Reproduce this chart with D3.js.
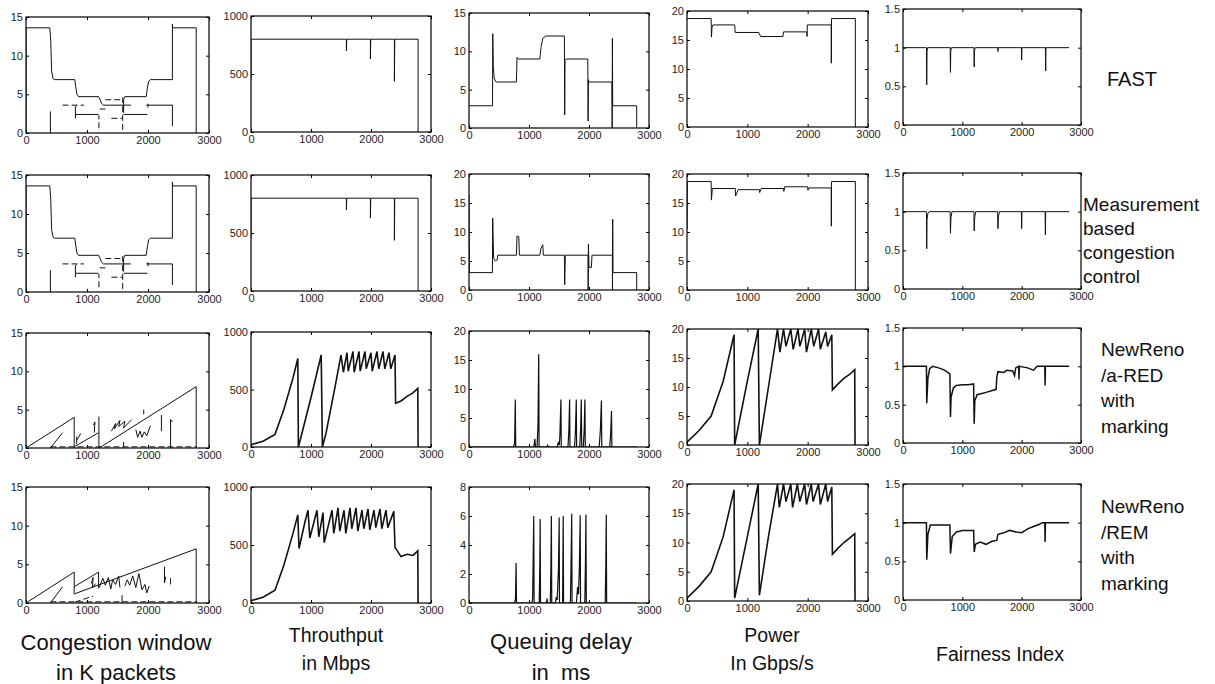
<!DOCTYPE html>
<html>
<head>
<meta charset="utf-8">
<title>Congestion control comparison</title>
<style>
  body { margin: 0; background: #fff; }
  svg { display: block; font-family: "Liberation Sans", Arial, Helvetica, sans-serif; }
  .tick text { font-family: "Liberation Sans", Arial, Helvetica, sans-serif; font-size: 11px; fill: #222; }
  .tick line { stroke: #000; }
  .domain { display: none; }
  .trace { fill: none; stroke: #111; }
  .box { fill: none; stroke: #000; stroke-width: 1.2; }
  .label { fill: #111; white-space: pre; }
</style>
</head>
<body>
<svg width="1215" height="684"></svg>
<script src="https://d3js.org/d3.v7.min.js"></script>
<script>
// ticks
var xTicks = [0, 1000, 2000, 3000];
var cwndTicks = [0, 5, 10, 15];
var thrTicks = [0, 500, 1000];
var queueTicks15 = [0, 5, 10, 15];
var queueTicks20 = [0, 5, 10, 15, 20];
var queueTicks8 = [0, 2, 4, 6, 8];
var powerTicks = [0, 5, 10, 15, 20];
var fairTicks = [0, 0.5, 1, 1.5];

// FAST
var cwndFastSolid = [
  [[0,0],[0,13.6],[390,13.6],[405,12],[420,8],[445,7.0],[470,6.9],[800,6.9],[815,6],[835,5],[860,4.7],[1190,4.7],[1215,4.3],[1240,3.8],[1270,3.6],[1720,3.6]],
  [[1600,2.6],[1600,4.3],[1620,4.7],[1970,4.7],[1990,5.8],[2010,6.7],[2040,6.9],[2400,6.9],[2400,14.1],[2405,13.6],[2790,13.6],[2790,0]],
  [[400,0],[400,2.8]],
  [[810,1.9],[810,3.4],[830,3.5]],
  [[815,2.4],[1190,2.4]],
  [[1600,2.4],[1990,2.4]],
  [[1970,3.6],[2400,3.6],[2400,0.9]],
  [[2000,3.8],[2000,3.3]]
];
var cwndFastDash = [
  [[600,3.6],[950,3.6]],
  [[1300,4.3],[1590,4.3]],
  [[1585,0.4],[1585,4.6]],
  [[1400,1.9],[1580,1.9]],
  [[1195,0.6],[1195,2.3]],
  [[1210,3.1],[1300,3.1]]
];
var thrFast = [[0,450],[0,800],[1590,800],[1590,700],[1596,800],[1990,800],[1990,630],[1996,800],[2390,800],[2390,437],[2396,800],[2785,800],[2785,0]];
var queueFast = [[0,2.9],[392,2.9],[396,12.3],[405,8],[420,6.5],[450,6.0],[790,6.0],[800,9.2],[820,9.0],[1180,9.0],[1200,10.5],[1230,11.7],[1280,12.0],[1590,12.0],[1595,1.7],[1600,8.8],[1620,9.0],[1980,9.0],[1985,0.9],[1990,6.3],[2000,6.0],[2382,6.0],[2386,0],[2390,11.7],[2395,2.9],[2795,2.9],[2795,0]];
var powerFast = [[0,18.7],[400,18.7],[405,15.5],[415,17.2],[430,17.6],[790,17.6],[800,16.3],[1190,16.3],[1220,15.6],[1590,15.6],[1600,16.4],[1985,16.4],[1990,15.6],[1995,17.6],[2390,17.6],[2392,11.0],[2396,18.7],[2790,18.7],[2790,0]];
var fairFast = [[0,1],[395,1],[400,0.52],[405,0.95],[415,1],[795,1],[800,0.68],[805,0.95],[815,1],[1195,1],[1200,0.75],[1205,0.95],[1215,1],[1598,1],[1600,0.95],[1605,1],[1995,1],[2000,0.84],[2005,1],[2400,1],[2405,0.7],[2410,1],[2800,1]];

// Measurement based
var queueMeas = [[0,16.4],[5,3.0],[390,3.0],[395,12.4],[410,5.5],[440,5.0],[470,5.2],[480,6.0],[790,6.0],[800,9.3],[830,9.2],[840,6.0],[1180,6.0],[1200,7.2],[1230,7.8],[1240,6.0],[1590,6.0],[1595,0.9],[1605,6.0],[1620,6.0],[1985,6.0],[1986,0],[1990,7.9],[2000,3.9],[2040,3.9],[2050,6.0],[2390,6.0],[2391,0],[2395,12.2],[2400,3.0],[2795,3.0],[2795,0]];
var powerMeas = [[0,10.5],[5,18.7],[400,18.7],[405,15.5],[420,17.5],[800,17.5],[805,16.2],[850,17.3],[1200,17.3],[1205,16.8],[1230,17.5],[1600,17.5],[1605,17.0],[1620,17.8],[2000,17.8],[2005,17.2],[2020,17.6],[2390,17.6],[2392,11.0],[2396,18.7],[2790,18.7],[2790,0]];
var fairMeas = [[0,1],[395,1],[400,0.52],[405,0.9],[420,0.98],[440,1],[795,1],[800,0.72],[808,0.92],[825,1],[1195,1],[1200,0.75],[1208,0.92],[1225,1],[1595,1],[1600,0.78],[1608,0.93],[1625,1],[1995,1],[2000,0.78],[2005,1],[2395,1],[2400,0.7],[2405,1],[2800,1]];

// NewReno / a-RED
var cwndRedSolid = [
  [[0,0],[790,4.0],[790,0]],
  [[800,0.2],[1190,2.0]],
  [[1195,4.1],[1195,0]],
  [[1200,0],[2790,8.0],[2790,0]],
  [[400,0],[600,2.0]],
  [[830,0.5],[830,1.5]],
  [[830,1.0],[900,1.9]],
  [[1120,2.0],[1130,3.4],[1105,3.0]],
  [[1400,2.2],[1470,3.2],[1450,2.5],[1540,3.6],[1520,2.8],[1620,3.5],[1600,2.6],[1730,3.7]],
  [[1800,2.4],[1830,1.4],[1870,2.2],[1900,1.4],[1940,2.1],[1980,1.6],[2040,2.9]],
  [[1600,0],[1600,0.8]],
  [[1930,5.0],[1930,4.4]],
  [[2220,4.3],[2220,2.2]],
  [[2370,0],[2370,3.7],[2400,3.4]]
];
var cwndRedDash = [[[400,0.15],[2800,0.15]]];
var thrRed = [[0,20],[200,50],[400,110],[550,330],[700,600],[780,770],[790,0],[830,80],[1000,430],[1170,800],[1190,0],[1250,120],[1400,520],[1500,800],[1540,650],[1600,820],[1620,660],[1700,830],[1720,650],[1800,830],[1820,660],[1900,830],[1920,680],[2000,820],[2020,660],[2100,830],[2130,680],[2200,830],[2230,680],[2300,820],[2330,680],[2400,800],[2410,380],[2500,400],[2600,440],[2700,470],[2780,510],[2785,0]];
var queueRed = [[0,0],[740,0],[760,0.6],[772,8.2],[778,0],[1080,0],[1098,1.4],[1108,0],[1135,0],[1150,4],[1162,16],[1168,0],[1300,0],[1310,0.3],[1320,0],[1470,0],[1490,0.9],[1505,0.3],[1515,2],[1532,8.2],[1538,0],[1650,0],[1665,3],[1677,8.2],[1683,0],[1760,0],[1775,3],[1788,8.2],[1794,0],[1845,0],[1860,3],[1872,8.2],[1878,0],[1905,0],[1920,3],[1932,8.2],[1938,0],[2170,0],[2190,3],[2207,8.0],[2213,0],[2345,0],[2362,2.5],[2375,6.2],[2381,0],[2800,0]];
var powerRed = [[0,0.5],[200,2.5],[400,5],[600,11],[780,19],[790,0],[1000,11],[1180,20],[1200,0],[1350,10],[1500,20],[1540,16],[1600,20],[1640,17],[1720,20],[1760,16.5],[1840,20],[1870,17],[1950,20],[1980,16],[2060,20],[2100,17],[2180,20],[2210,16.5],[2300,19.5],[2330,17],[2400,19],[2410,9.5],[2500,10.5],[2600,11.5],[2700,12.2],[2780,13],[2785,0]];
var fairRed = [[0,1],[395,1],[400,0.52],[420,0.85],[450,0.97],[500,1.0],[600,0.98],[700,0.95],[790,0.9],[800,0.34],[810,0.6],[850,0.72],[900,0.75],[1000,0.76],[1100,0.76],[1190,0.77],[1200,0.25],[1210,0.55],[1250,0.63],[1400,0.66],[1570,0.70],[1580,0.85],[1600,0.93],[1700,0.92],[1750,0.95],[1850,0.94],[1880,0.88],[1900,0.98],[1950,1.0],[1955,0.83],[1960,1.0],[2100,0.98],[2200,0.95],[2260,1.0],[2390,1.0],[2395,0.75],[2400,1.0],[2800,1.0]];

// NewReno / REM
var cwndRemSolid = [
  [[0,0],[790,4.0],[790,1.1]],
  [[790,2.1],[1190,4.0],[1190,1.9]],
  [[800,1.2],[2790,7.0],[2790,0]],
  [[400,0],[600,2.1]],
  [[1070,2.5],[1100,3.3],[1090,2.0],[1140,2.5]],
  [[1200,2.0],[1260,3.2],[1300,2.3],[1350,3.3],[1390,1.8],[1420,3.0],[1470,2.4],[1520,3.5],[1540,2.0]],
  [[1620,2.2],[1660,3.0],[1700,2.3],[1750,3.5],[1800,2.0],[1850,3.8],[1880,2.6],[1900,1.7],[1950,2.4],[1980,1.3],[2020,2.2]],
  [[2270,4.7],[2270,2.6],[2290,3.4]],
  [[2370,3.2],[2370,2.4]],
  [[1575,0],[1575,1.0]]
];
var cwndRemDash = [[[800,0.1],[1100,0.9]], [[400,0.15],[2800,0.15]]];
var thrRem = [[0,20],[200,50],[400,110],[550,330],[700,600],[780,760],[800,470],[900,700],[950,800],[980,560],[1100,800],[1130,570],[1200,780],[1220,520],[1350,800],[1380,600],[1450,820],[1480,620],[1550,800],[1580,600],[1650,820],[1680,640],[1750,820],[1780,620],[1850,800],[1880,640],[1950,810],[1980,630],[2050,800],[2080,650],[2150,810],[2180,640],[2250,800],[2280,650],[2380,790],[2400,480],[2500,400],[2600,420],[2700,410],[2780,450],[2785,0]];
var queueRem = [[0,0],[760,0],[775,0.3],[785,2.76],[792,0],[1050,0],[1060,0.3],[1068,2.5],[1079,6.0],[1085,0],[1170,0],[1180,2.5],[1186,5.8],[1192,0],[1290,0],[1300,0.3],[1310,0],[1355,0],[1365,2.5],[1373,6.0],[1379,0],[1440,0],[1455,0.4],[1470,0.2],[1492,2.5],[1503,5.9],[1508,0],[1560,0],[1570,6.0],[1576,0],[1690,0],[1700,2.5],[1712,6.15],[1718,0],[1790,0],[1810,1.1],[1825,0.6],[1840,2.5],[1853,6.05],[1859,0],[1930,0],[1940,2.5],[1949,6.1],[1955,0],[2270,0],[2280,2.5],[2288,6.1],[2294,0],[2790,0]];
var powerRem = [[0,0.5],[200,2.5],[400,5],[600,11],[780,19],[790,0.5],[1000,11],[1180,20],[1200,1],[1350,11],[1500,20],[1530,16],[1600,20],[1640,17],[1720,20],[1750,16],[1830,20],[1870,17],[1950,20],[1980,16.5],[2060,20],[2090,17],[2180,20],[2210,16.5],[2300,20],[2330,17],[2400,19.5],[2410,8],[2500,9],[2600,10],[2700,10.8],[2780,11.5],[2785,0]];
var fairRem = [[0,1],[395,1],[400,0.52],[420,0.85],[460,0.97],[600,0.97],[790,0.97],[800,0.6],[830,0.82],[900,0.88],[1000,0.9],[1190,0.9],[1200,0.62],[1220,0.72],[1300,0.75],[1400,0.72],[1500,0.76],[1580,0.77],[1600,0.85],[1700,0.87],[1800,0.9],[1900,0.88],[2000,0.87],[2100,0.92],[2200,0.95],[2300,0.98],[2350,1.0],[2390,1.0],[2395,0.75],[2400,1.0],[2800,1.0]];

var rowLabels = [["FAST"], ["Measurement", "based", "congestion", "control"], ["NewReno", "/a-RED", "with", "marking"], ["NewReno", "/REM", "with", "marking"]];
var colLabels = [["Congestion window", "in K packets"], ["Throuthput", "in Mbps"], ["Queuing delay", "in  ms"], ["Power", "In Gbps/s"], ["Fairness Index"]];

// panel frames (pixels)
var colX = [[26, 209], [251, 431], [469, 649], [687, 868], [903, 1081]];
var rowTop = [[17, 16, 13, 11, 9], [175, 175, 174, 174, 173], [333, 332, 331, 329, 328], [487, 487, 487, 484, 484]];
var rowBottom = [[133, 132, 128, 127, 125], [292, 291, 290, 290, 289], [448, 447, 447, 445, 443], [603, 603, 603, 601, 600]];

function solid(list, w) { return list.map(function (p) { return { pts: p, w: w || 1 }; }); }
function dashed(list) { return list.map(function (p) { return { pts: p, w: 1, dash: true }; }); }

var panels = [
  [
    { yMax: 15, ticks: cwndTicks, lines: solid(cwndFastSolid).concat(dashed(cwndFastDash)) },
    { yMax: 1000, ticks: thrTicks, lines: solid([thrFast]) },
    { yMax: 15, ticks: queueTicks15, lines: solid([queueFast]) },
    { yMax: 20, ticks: powerTicks, lines: solid([powerFast]) },
    { yMax: 1.5, ticks: fairTicks, lines: solid([fairFast]) }
  ],
  [
    { yMax: 15, ticks: cwndTicks, lines: solid(cwndFastSolid).concat(dashed(cwndFastDash)) },
    { yMax: 1000, ticks: thrTicks, lines: solid([thrFast]) },
    { yMax: 20, ticks: queueTicks20, lines: solid([queueMeas]) },
    { yMax: 20, ticks: powerTicks, lines: solid([powerMeas]) },
    { yMax: 1.5, ticks: fairTicks, lines: solid([fairMeas]) }
  ],
  [
    { yMax: 15, ticks: cwndTicks, lines: solid(cwndRedSolid).concat(dashed(cwndRedDash)) },
    { yMax: 1000, ticks: thrTicks, lines: solid([thrRed], 1.6) },
    { yMax: 20, ticks: queueTicks20, lines: solid([queueRed], 1.2) },
    { yMax: 20, ticks: powerTicks, lines: solid([powerRed], 1.6) },
    { yMax: 1.5, ticks: fairTicks, lines: solid([fairRed], 1.5) }
  ],
  [
    { yMax: 15, ticks: cwndTicks, lines: solid(cwndRemSolid).concat(dashed(cwndRemDash)) },
    { yMax: 1000, ticks: thrTicks, lines: solid([thrRem], 1.6) },
    { yMax: 8, ticks: queueTicks8, lines: solid([queueRem], 1.2) },
    { yMax: 20, ticks: powerTicks, lines: solid([powerRem], 1.6) },
    { yMax: 1.5, ticks: fairTicks, lines: solid([fairRem], 1.5) }
  ]
];

var svg = d3.select("svg");
var plain = function (d) { return String(d); };

panels.forEach(function (row, r) {
  row.forEach(function (p, c) {
    var x0 = colX[c][0], x1 = colX[c][1];
    var y0 = rowTop[r][c], y1 = rowBottom[r][c];
    var x = d3.scaleLinear().domain([0, 3000]).range([x0, x1]);
    var y = d3.scaleLinear().domain([0, p.yMax]).range([y1, y0]);
    var g = svg.append("g");
    var id = "clip" + r + c;
    g.append("clipPath").attr("id", id).append("rect")
      .attr("x", x0).attr("y", y0).attr("width", x1 - x0).attr("height", y1 - y0);

    var line = d3.line().x(function (d) { return x(d[0]); }).y(function (d) { return y(d[1]); });
    var traces = g.append("g").attr("clip-path", "url(#" + id + ")");
    p.lines.forEach(function (l) {
      traces.append("path")
        .attr("class", "trace")
        .attr("d", line(l.pts))
        .attr("stroke-width", l.w)
        .attr("stroke-dasharray", l.dash ? "6,3" : null);
    });

    g.append("g").attr("transform", "translate(0," + y1 + ")")
      .call(d3.axisBottom(x).tickValues(xTicks).tickSizeInner(-3).tickSizeOuter(0).tickPadding(3).tickFormat(plain));
    g.append("g").attr("transform", "translate(0," + y0 + ")")
      .call(d3.axisTop(x).tickValues(xTicks).tickSizeInner(-3).tickSizeOuter(0).tickFormat(""));
    g.append("g").attr("transform", "translate(" + x0 + ",0)")
      .call(d3.axisLeft(y).tickValues(p.ticks).tickSizeInner(-3).tickSizeOuter(0).tickPadding(3).tickFormat(plain));
    g.append("g").attr("transform", "translate(" + x1 + ",0)")
      .call(d3.axisRight(y).tickValues(p.ticks).tickSizeInner(-3).tickSizeOuter(0).tickFormat(""));

    g.append("rect").attr("class", "box")
      .attr("x", x0).attr("y", y0).attr("width", x1 - x0).attr("height", y1 - y0);
  });
});

// row labels on the right
var rowLabelPos = [
  { x: 1107, y: 86, step: 0, size: 20 },
  { x: 1083, y: 211, step: 24, size: 19 },
  { x: 1101, y: 356, step: 25.5, size: 19 },
  { x: 1101, y: 513, step: 25.5, size: 19 }
];
rowLabels.forEach(function (lines, r) {
  var pos = rowLabelPos[r];
  lines.forEach(function (t, i) {
    svg.append("text").attr("class", "label")
      .attr("x", pos.x).attr("y", pos.y + i * pos.step)
      .style("font-size", pos.size + "px")
      .text(t);
  });
});

// column labels at the bottom
var colLabelPos = [
  { x: 116, y: [650, 680], size: 22 },
  { x: 336, y: [642, 670], size: 19.5 },
  { x: 561, y: [649, 680], size: 22 },
  { x: 772, y: [642, 670], size: 19.5 },
  { x: 1000, y: [661], size: 19.5 }
];
colLabels.forEach(function (lines, c) {
  var pos = colLabelPos[c];
  lines.forEach(function (t, i) {
    svg.append("text").attr("class", "label")
      .attr("x", pos.x).attr("y", pos.y[i])
      .attr("text-anchor", "middle")
      .style("font-size", pos.size + "px")
      .text(t);
  });
});
</script>
</body>
</html>
